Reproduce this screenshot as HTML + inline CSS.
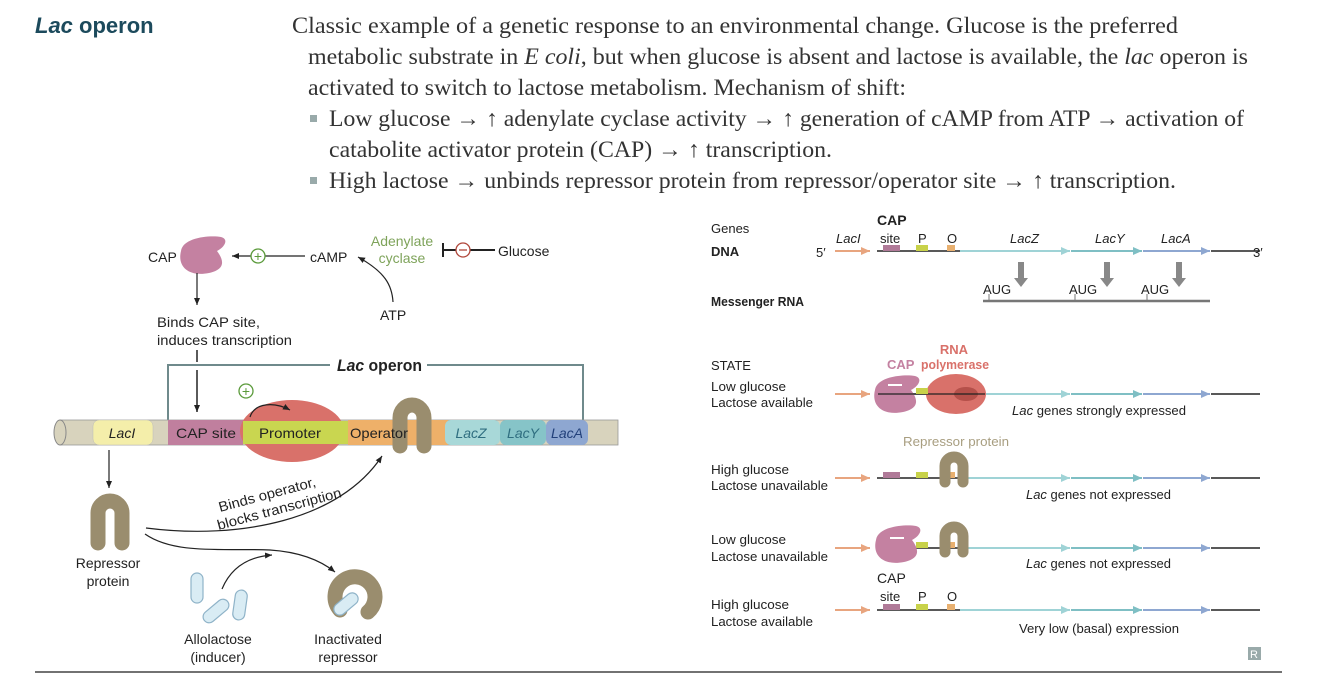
<!DOCTYPE html>
<html><head><meta charset="utf-8"><style>
html,body{margin:0;padding:0;background:#fff;}
svg{display:block;}
.s{font-family:"Liberation Sans",sans-serif;fill:#222;}
.serif{font-family:"Liberation Serif",serif;fill:#333;font-size:23px;}
</style></head><body>
<svg width="1334" height="685" viewBox="0 0 1334 685" xmlns="http://www.w3.org/2000/svg">
<defs>
<marker id="ah" markerWidth="8" markerHeight="8" refX="7" refY="4" orient="auto" markerUnits="userSpaceOnUse"><path d="M0,1 L7,4 L0,7 Z" fill="#222"/></marker>
<marker id="ao" markerWidth="10" markerHeight="10" refX="9" refY="5" orient="auto" markerUnits="userSpaceOnUse"><path d="M0,1 L9,5 L0,9 Z" fill="#e8a57f"/></marker>
<marker id="at1" markerWidth="10" markerHeight="10" refX="9" refY="5" orient="auto" markerUnits="userSpaceOnUse"><path d="M0,1 L9,5 L0,9 Z" fill="#9fd3d6"/></marker>
<marker id="at2" markerWidth="10" markerHeight="10" refX="9" refY="5" orient="auto" markerUnits="userSpaceOnUse"><path d="M0,1 L9,5 L0,9 Z" fill="#7fbfc4"/></marker>
<marker id="at3" markerWidth="10" markerHeight="10" refX="9" refY="5" orient="auto" markerUnits="userSpaceOnUse"><path d="M0,1 L9,5 L0,9 Z" fill="#8ea7d1"/></marker>
<g id="cap"><path d="M-22,-4 C-20,-18 8,-20 18,-18 C26,-16 22,-8 14,-4 C20,4 24,14 6,18 C-14,22 -26,12 -22,-4 Z" fill="#c481a1"/></g>
<g id="gl">
 <line x1="0" y1="0" x2="35" y2="0" stroke="#e8a57f" stroke-width="2" marker-end="url(#ao)"/>
 <line x1="42" y1="0" x2="125" y2="0" stroke="#222" stroke-width="1.5"/>
 <line x1="125" y1="0" x2="235" y2="0" stroke="#9fd3d6" stroke-width="2" marker-end="url(#at1)"/>
 <line x1="236" y1="0" x2="307" y2="0" stroke="#7fbfc4" stroke-width="2" marker-end="url(#at2)"/>
 <line x1="308" y1="0" x2="375" y2="0" stroke="#8ea7d1" stroke-width="2" marker-end="url(#at3)"/>
 <line x1="376" y1="0" x2="425" y2="0" stroke="#222" stroke-width="1.5"/>
</g>
<g id="boxes">
 <rect x="48" y="-6" width="17" height="6" fill="#b07a98"/>
 <rect x="81" y="-6" width="12" height="6" fill="#c8d24a"/>
 <rect x="112" y="-6" width="8" height="6" fill="#e8b070"/>
</g>
</defs>

<text x="35" y="33" font-family="Liberation Sans,sans-serif" font-weight="bold" font-size="22" fill="#1c4a5c"><tspan font-style="italic">Lac</tspan> operon</text>
<text class="serif" x="292" y="33" textLength="886" lengthAdjust="spacingAndGlyphs">Classic example of a genetic response to an environmental change. Glucose is the preferred</text>
<text class="serif" x="308" y="64" textLength="940" lengthAdjust="spacingAndGlyphs">metabolic substrate in <tspan font-style="italic">E coli</tspan>, but when glucose is absent and lactose is available, the <tspan font-style="italic">lac</tspan> operon is</text>
<text class="serif" x="308" y="95" textLength="598" lengthAdjust="spacingAndGlyphs">activated to switch to lactose metabolism. Mechanism of shift:</text>
<rect x="310" y="115" width="7" height="7" fill="#9aa"/>
<text class="serif" x="329" y="126" textLength="915" lengthAdjust="spacingAndGlyphs">Low glucose → ↑ adenylate cyclase activity → ↑ generation of cAMP from ATP → activation of</text>
<text class="serif" x="329" y="157" textLength="503" lengthAdjust="spacingAndGlyphs">catabolite activator protein (CAP) → ↑ transcription.</text>
<rect x="310" y="177" width="7" height="7" fill="#9aa"/>
<text class="serif" x="329" y="188" textLength="847" lengthAdjust="spacingAndGlyphs">High lactose → unbinds repressor protein from repressor/operator site → ↑ transcription.</text>

<g class="s" font-size="14">
<text x="148" y="262">CAP</text>
<use href="#cap" x="203" y="255"/>
<line x1="305" y1="256" x2="232" y2="256" stroke="#222" stroke-width="1.2" marker-end="url(#ah)"/>
<circle cx="258" cy="256" r="7" fill="#fff" stroke="#5a9a3a" stroke-width="1.3"/>
<text x="258" y="261" text-anchor="middle" style="fill:#5a9a3a" font-size="14">+</text>
<text x="310" y="262">cAMP</text>
<text x="402" y="246" text-anchor="middle" style="fill:#7ea35a">Adenylate</text>
<text x="402" y="263" text-anchor="middle" style="fill:#7ea35a">cyclase</text>
<path d="M393,302 C392,285 385,272 358,257" fill="none" stroke="#222" stroke-width="1.2" marker-end="url(#ah)"/>
<text x="380" y="320">ATP</text>
<line x1="443" y1="243" x2="443" y2="257" stroke="#222" stroke-width="2"/>
<line x1="443" y1="250" x2="495" y2="250" stroke="#222" stroke-width="2"/>
<circle cx="463" cy="250" r="7" fill="#fff" stroke="#b0463a" stroke-width="1.3"/>
<line x1="459" y1="250" x2="467" y2="250" stroke="#b0463a" stroke-width="1.3"/>
<text x="498" y="256">Glucose</text>
<line x1="197" y1="273" x2="197" y2="305" stroke="#222" stroke-width="1.2" marker-end="url(#ah)"/>
<text x="157" y="327" textLength="103" lengthAdjust="spacingAndGlyphs">Binds CAP site,</text>
<text x="157" y="345" textLength="135" lengthAdjust="spacingAndGlyphs">induces transcription</text>
<line x1="197" y1="350" x2="197" y2="362" stroke="#222" stroke-width="1.5"/>
<line x1="197" y1="370" x2="197" y2="412" stroke="#222" stroke-width="1.5" marker-end="url(#ah)"/>
<path d="M168,420 V365 H330 M427,365 H583 V420" fill="none" stroke="#6f8a8c" stroke-width="2"/>
<text x="337" y="371" font-size="17" font-weight="bold" textLength="85" lengthAdjust="spacingAndGlyphs"><tspan font-style="italic">Lac</tspan> operon</text>

<rect x="60" y="420" width="558" height="25" fill="#d8d3bd" stroke="#999" stroke-width="0.8"/>
<ellipse cx="60" cy="432.5" rx="6" ry="12.5" fill="#d8d3bd" stroke="#888"/>
<rect x="93" y="420" width="60" height="25" rx="6" fill="#f4eeaa" stroke="#bbb" stroke-width="0.5"/>
<rect x="168" y="420" width="75" height="25" fill="#c07f9e"/>
<rect x="348" y="420" width="100" height="25" fill="#eeb069"/>
<rect x="445" y="420" width="55" height="25" rx="6" fill="#a8d8d8"/>
<rect x="500" y="420" width="46" height="25" rx="6" fill="#86c4c8"/>
<rect x="546" y="420" width="42" height="25" rx="6" fill="#8ea7d1"/>
<ellipse cx="292" cy="431" rx="52" ry="31" fill="#d9716a"/>
<rect x="243" y="421" width="105" height="23" fill="#c9d650"/>
<path d="M250,417 C255,402 275,402 290,410" fill="none" stroke="#222" stroke-width="1.2" marker-end="url(#ah)"/>
<circle cx="246" cy="391" r="7" fill="#fff" stroke="#5a9a3a" stroke-width="1.3"/>
<text x="246" y="396" text-anchor="middle" style="fill:#5a9a3a" font-size="14">+</text>
<path d="M400,446 V418 A12,13 0 0 1 424,418 V446" fill="none" stroke="#9a8d6e" stroke-width="15" stroke-linecap="round"/>
<text x="122" y="438" text-anchor="middle" font-style="italic">LacI</text>
<text x="206" y="438" text-anchor="middle" textLength="60" lengthAdjust="spacingAndGlyphs">CAP site</text>
<text x="290" y="438" text-anchor="middle" textLength="62" lengthAdjust="spacingAndGlyphs">Promoter</text>
<text x="379" y="438" text-anchor="middle" textLength="58" lengthAdjust="spacingAndGlyphs">Operator</text>
<text x="471" y="438" text-anchor="middle" font-style="italic" style="fill:#2f6e80">LacZ</text>
<text x="523" y="438" text-anchor="middle" font-style="italic" style="fill:#2f6e80">LacY</text>
<text x="567" y="438" text-anchor="middle" font-style="italic" style="fill:#22407a">LacA</text>

<line x1="109" y1="450" x2="109" y2="488" stroke="#222" stroke-width="1.2" marker-end="url(#ah)"/>
<path d="M98,543 V513 A12,12 0 0 1 122,513 V543" fill="none" stroke="#9a8d6e" stroke-width="15" stroke-linecap="round"/>
<text x="108" y="568" text-anchor="middle">Repressor</text>
<text x="108" y="586" text-anchor="middle">protein</text>
<path d="M146,528 C240,540 340,520 382,456" fill="none" stroke="#222" stroke-width="1.2" marker-end="url(#ah)"/>
<path d="M145,534 C175,555 225,548 270,550 C300,552 320,560 335,572" fill="none" stroke="#222" stroke-width="1.2" marker-end="url(#ah)"/>
<g transform="translate(220,512) rotate(-15)">
<text x="0" y="0" textLength="100" lengthAdjust="spacingAndGlyphs">Binds operator,</text>
<text x="-6" y="17" textLength="128" lengthAdjust="spacingAndGlyphs">blocks transcription</text>
</g>
<path d="M222,589 C230,570 245,557 272,555" fill="none" stroke="#222" stroke-width="1.2" marker-end="url(#ah)"/>
<rect x="191" y="573" width="12" height="30" rx="6" fill="#d9ecf4" stroke="#8fb3c8" stroke-width="1.2"/>
<rect x="234" y="590" width="12" height="30" rx="6" fill="#d9ecf4" stroke="#8fb3c8" stroke-width="1.2" transform="rotate(8 240 605)"/>
<rect x="210" y="596" width="12" height="30" rx="6" fill="#d9ecf4" stroke="#8fb3c8" stroke-width="1.2" transform="rotate(50 216 611)"/>
<path d="M340,610 A20,20 0 1 1 368,612" fill="none" stroke="#9a8d6e" stroke-width="15" stroke-linecap="round"/>
<rect x="340" y="590" width="12" height="28" rx="6" fill="#d9ecf4" stroke="#8fb3c8" stroke-width="1.2" transform="rotate(50 346 604)"/>
<text x="218" y="644" text-anchor="middle">Allolactose</text>
<text x="218" y="662" text-anchor="middle">(inducer)</text>
<text x="348" y="644" text-anchor="middle">Inactivated</text>
<text x="348" y="662" text-anchor="middle">repressor</text>
</g>

<g class="s" font-size="13">
<text x="711" y="233">Genes</text>
<text x="711" y="256" font-weight="bold">DNA</text>
<text x="816" y="257">5′</text>
<text x="1253" y="257">3′</text>
<text x="836" y="243" font-style="italic">LacI</text>
<text x="877" y="225" font-weight="bold" font-size="14">CAP</text>
<text x="880" y="243">site</text>
<text x="918" y="243">P</text>
<text x="947" y="243">O</text>
<text x="1010" y="243" font-style="italic">LacZ</text>
<text x="1095" y="243" font-style="italic">LacY</text>
<text x="1161" y="243" font-style="italic">LacA</text>
<use href="#gl" x="835" y="251"/>
<use href="#boxes" x="835" y="251"/>
<g fill="#888"><path d="M1018,262 h6 v16 h4 l-7,9 l-7,-9 h4 z"/><path d="M1104,262 h6 v16 h4 l-7,9 l-7,-9 h4 z"/><path d="M1176,262 h6 v16 h4 l-7,9 l-7,-9 h4 z"/></g>
<text x="983" y="294">AUG</text><text x="1069" y="294">AUG</text><text x="1141" y="294">AUG</text>
<line x1="983" y1="301" x2="1210" y2="301" stroke="#777" stroke-width="2.5"/>
<line x1="989" y1="294" x2="989" y2="301" stroke="#777"/><line x1="1075" y1="294" x2="1075" y2="301" stroke="#777"/><line x1="1147" y1="294" x2="1147" y2="301" stroke="#777"/>
<text x="711" y="306" font-weight="bold" textLength="93" lengthAdjust="spacingAndGlyphs">Messenger RNA</text>

<text x="711" y="370">STATE</text>
<text x="711" y="391" textLength="75" lengthAdjust="spacingAndGlyphs">Low glucose</text><text x="711" y="407" textLength="102" lengthAdjust="spacingAndGlyphs">Lactose available</text>
<text x="954" y="354" text-anchor="middle" style="fill:#d9716a" font-weight="bold">RNA</text>
<text x="955" y="369" text-anchor="middle" style="fill:#d9716a" font-weight="bold" textLength="68" lengthAdjust="spacingAndGlyphs">polymerase</text>
<text x="887" y="369" style="fill:#c481a1" font-weight="bold">CAP</text>
<use href="#gl" x="835" y="394"/>
<use href="#cap" x="897" y="394"/>
<ellipse cx="956" cy="394" rx="30" ry="20" fill="#d9716a"/>
<ellipse cx="966" cy="394" rx="12" ry="7" fill="#b5504a"/>
<path d="M888,385 h14" stroke="#fff" stroke-width="2"/>
<line x1="878" y1="394" x2="985" y2="394" stroke="#222" stroke-width="1.2"/>
<rect x="916" y="388" width="12" height="6" fill="#c8d24a"/>
<text x="1012" y="415" textLength="174" lengthAdjust="spacingAndGlyphs"><tspan font-style="italic">Lac</tspan> genes strongly expressed</text>

<text x="903" y="446" style="fill:#a89e80" textLength="106" lengthAdjust="spacingAndGlyphs">Repressor protein</text>
<text x="711" y="474" textLength="78" lengthAdjust="spacingAndGlyphs">High glucose</text><text x="711" y="490" textLength="117" lengthAdjust="spacingAndGlyphs">Lactose unavailable</text>
<use href="#gl" x="835" y="478"/>
<use href="#boxes" x="835" y="478"/>
<path d="M945,482 V466 A9,9 0 0 1 963,466 V482" fill="none" stroke="#9a8d6e" stroke-width="11" stroke-linecap="round"/>
<text x="1026" y="499" textLength="145" lengthAdjust="spacingAndGlyphs"><tspan font-style="italic">Lac</tspan> genes not expressed</text>

<text x="711" y="544" textLength="75" lengthAdjust="spacingAndGlyphs">Low glucose</text><text x="711" y="561" textLength="117" lengthAdjust="spacingAndGlyphs">Lactose unavailable</text>
<use href="#gl" x="835" y="548"/>
<use href="#boxes" x="835" y="548"/>
<use href="#cap" x="898" y="544"/>
<path d="M890,538 h14" stroke="#fff" stroke-width="2"/>
<path d="M945,552 V536 A9,9 0 0 1 963,536 V552" fill="none" stroke="#9a8d6e" stroke-width="11" stroke-linecap="round"/>
<text x="1026" y="568" textLength="145" lengthAdjust="spacingAndGlyphs"><tspan font-style="italic">Lac</tspan> genes not expressed</text>

<text x="877" y="583" font-size="14">CAP</text>
<text x="880" y="601">site</text><text x="918" y="601">P</text><text x="947" y="601">O</text>
<text x="711" y="609" textLength="78" lengthAdjust="spacingAndGlyphs">High glucose</text><text x="711" y="626" textLength="102" lengthAdjust="spacingAndGlyphs">Lactose available</text>
<use href="#gl" x="835" y="610"/>
<use href="#boxes" x="835" y="610"/>
<text x="1019" y="633" textLength="160" lengthAdjust="spacingAndGlyphs">Very low (basal) expression</text>
<rect x="1248" y="647" width="13" height="13" fill="#9aa"/>
<text x="1250" y="658" font-size="11" style="fill:#fff">R</text>
</g>
<line x1="35" y1="672" x2="1282" y2="672" stroke="#444" stroke-width="1.5"/>
</svg>
</body></html>
